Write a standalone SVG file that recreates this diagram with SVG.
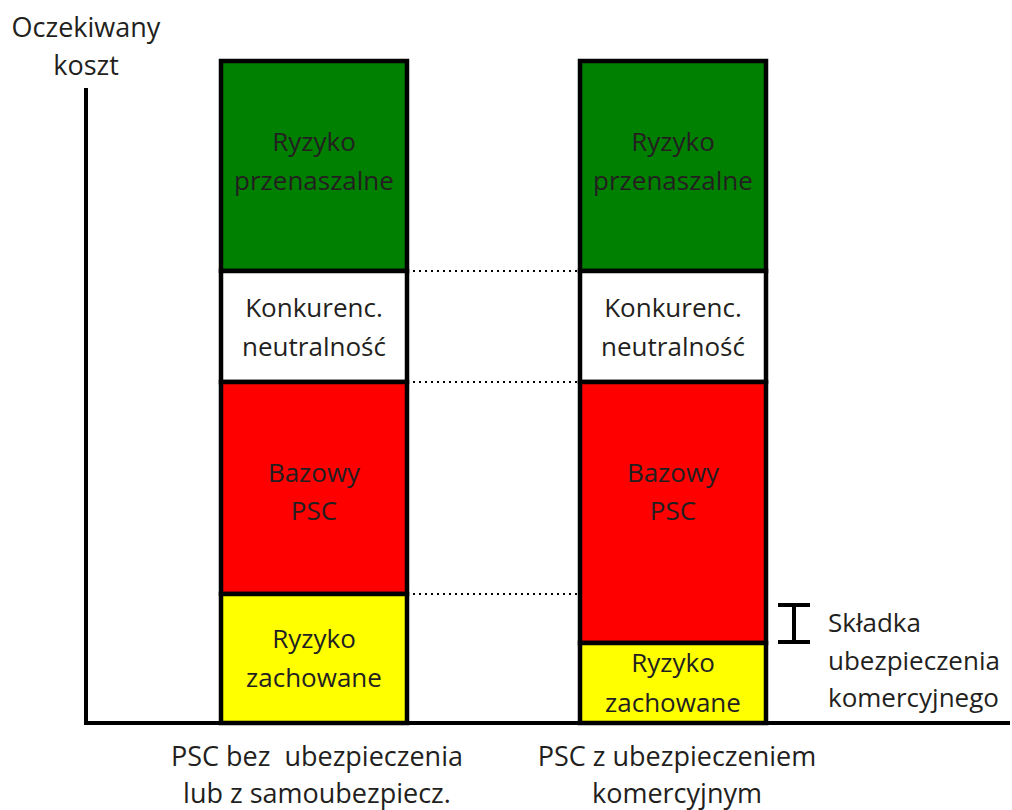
<svg xmlns="http://www.w3.org/2000/svg" width="1012" height="810" viewBox="0 0 1012 810">
  <style>
    text { font-family: "Open Sans", "Liberation Sans", sans-serif; font-size: 26px; fill: #231f20; text-anchor: middle; }
    .cap { font-size: 27px; white-space: pre; }
    .seg { stroke: #000; stroke-width: 4.5; }
    .dot { stroke: #000; stroke-width: 2; stroke-dasharray: 2 4; fill: none; }
    .axis { stroke: #000; stroke-width: 4; fill: none; }
  </style>
  <rect width="1012" height="810" fill="#fff"/>

  <!-- axes -->
  <g id="axes">
    <path class="axis" d="M86 88 V723 H1010"/>
    <text x="86" y="37" class="cap">Oczekiwany</text>
    <text x="86" y="75" class="cap">koszt</text>
  </g>

  <!-- left column: without commercial insurance -->
  <g id="bar-left">
    <rect class="seg" x="221" y="61" width="186" height="210" fill="#008000"/>
    <rect class="seg" x="221" y="271" width="186" height="111" fill="#fff"/>
    <rect class="seg" x="221" y="382" width="186" height="212" fill="#ff0000"/>
    <rect class="seg" x="221" y="594" width="186" height="129" fill="#ffff00"/>
    <text x="314" y="151">Ryzyko</text>
    <text x="314" y="190">przenaszalne</text>
    <text x="314" y="317">Konkurenc.</text>
    <text x="314" y="356">neutralność</text>
    <text x="314" y="482">Bazowy</text>
    <text x="314" y="520">PSC</text>
    <text x="314" y="648">Ryzyko</text>
    <text x="314" y="687">zachowane</text>
    <text x="317" y="766" class="cap" xml:space="preserve">PSC bez  ubezpieczenia</text>
    <text x="317" y="803" class="cap">lub z samoubezpiecz.</text>
  </g>

  <!-- right column: with commercial insurance -->
  <g id="bar-right">
    <rect class="seg" x="580" y="61" width="186" height="210" fill="#008000"/>
    <rect class="seg" x="580" y="271" width="186" height="111" fill="#fff"/>
    <rect class="seg" x="580" y="382" width="186" height="261" fill="#ff0000"/>
    <rect class="seg" x="580" y="643" width="186" height="80" fill="#ffff00"/>
    <text x="673" y="151">Ryzyko</text>
    <text x="673" y="190">przenaszalne</text>
    <text x="673" y="317">Konkurenc.</text>
    <text x="673" y="356">neutralność</text>
    <text x="673" y="482">Bazowy</text>
    <text x="673" y="520">PSC</text>
    <text x="673" y="672">Ryzyko</text>
    <text x="673" y="712">zachowane</text>
    <text x="677" y="766" class="cap">PSC z ubezpieczeniem</text>
    <text x="677" y="803" class="cap">komercyjnym</text>
  </g>

  <!-- premium marker -->
  <g id="premium">
    <path d="M778 605 H810 M794 605 V642 M778 642 H810" stroke="#000" stroke-width="4" fill="none"/>
    <text x="828" y="632" style="text-anchor:start">Składka</text>
    <text x="828" y="670" style="text-anchor:start">ubezpieczenia</text>
    <text x="828" y="707" style="text-anchor:start">komercyjnego</text>
  </g>

  <!-- dotted level connectors -->
  <g id="connectors">
    <line class="dot" x1="413" y1="271" x2="578" y2="271"/>
    <line class="dot" x1="413" y1="382" x2="578" y2="382"/>
    <line class="dot" x1="413" y1="594" x2="578" y2="594"/>
  </g>
</svg>
